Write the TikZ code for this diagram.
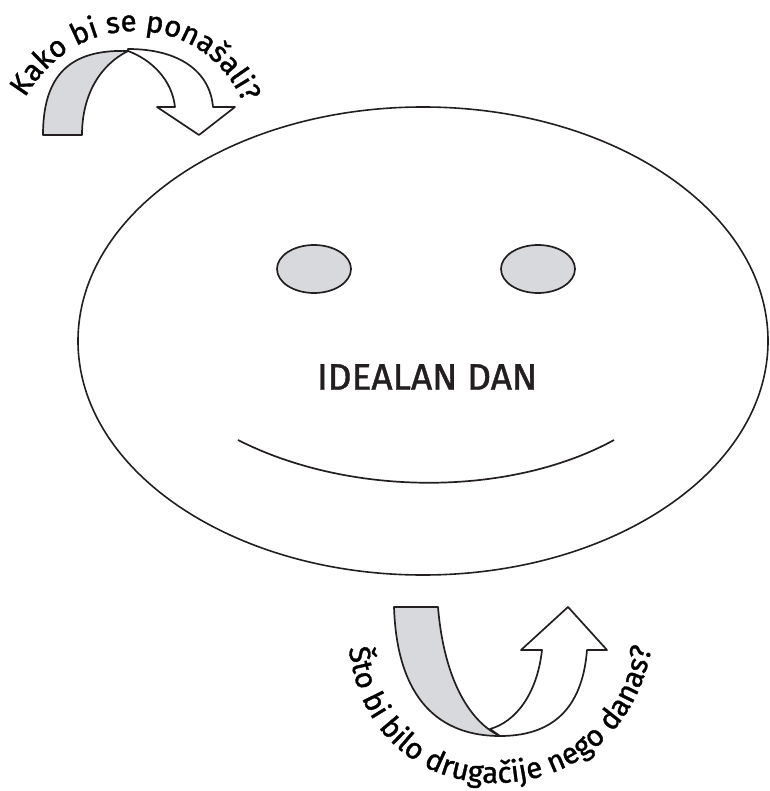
\documentclass[tikz,border=0pt]{standalone}
\usepackage{fontspec}
\setmainfont{Fira Sans}[FakeBold=1.2]
\usetikzlibrary{decorations.text}
\definecolor{bandgray}{HTML}{D8D9DD}
\definecolor{inkline}{HTML}{231F20}

\begin{document}
\begin{tikzpicture}[x=1pt, y=-1pt,
  outl/.style={draw=inkline, line width=1.7pt, line join=round},
  band/.style={outl, fill=bandgray},
  curvetext/.style={decorate, decoration={text along path, text align=center,
    text={|\fontsize{29.5}{36}\selectfont|#1}}}
]
  \useasboundingbox (0,0) rectangle (769,791);
  % face
  \draw[outl, line width=1.6pt] (423,341) ellipse [x radius=345, y radius=234];
  \draw[band] (314,269) ellipse [x radius=37, y radius=24];
  \draw[band] (538,269) ellipse [x radius=37, y radius=24];
  \draw[outl] (238,440) .. controls (350,497) and (510,497) .. (614,440);
  \node[font=\fontsize{37}{42}\selectfont, text=inkline] (title) at (427,377) {IDEALAN DAN};
  % top arrow
  \draw[band] (43,135) -- (82,135) .. controls (82,95) and (100,65) .. (128,51)
    .. controls (70,49) and (43,75) .. (43,135) -- cycle;
  \draw[outl, fill=white] (128,49) .. controls (180,49) and (210,72) .. (213,107)
    -- (235,107) -- (199,135) -- (157,107) -- (175,107)
    .. controls (172,80) and (152,60) .. (128,51) -- cycle;
  \path[curvetext={Kako bi se ponašali?}] (20,106) .. controls (45,62) and (80,32) .. (135,31)
    .. controls (180,31) and (226,55) .. (247,112);
  % bottom arrow
  \draw[band] (394,607) -- (438,607) .. controls (444,680) and (470,722) .. (500,736)
    .. controls (440,736) and (397,700) .. (394,607) -- cycle;
  \draw[outl, fill=white] (500,736) .. controls (560,736) and (583,700) .. (587,650)
    -- (607,650) -- (568,607) -- (521,650) -- (542,650)
    .. controls (537,695) and (515,722) .. (490,729) -- cycle;
  \path[curvetext={Što bi bilo drugačije nego danas?}] (348,638) .. controls (355,735) and (421,783) .. (495,783)
    .. controls (569,783) and (640,735) .. (653,638);
\end{tikzpicture}
\end{document}
